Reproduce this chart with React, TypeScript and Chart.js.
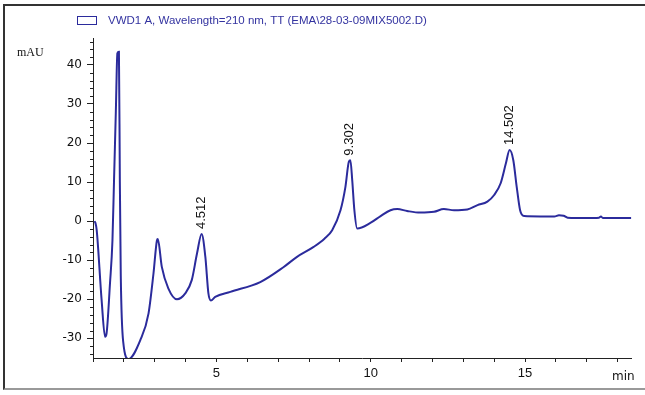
import React, { useEffect, useRef } from "react";
import { Chart, registerables } from "chart.js";

Chart.register(...registerables);

// Retention time (min)
const timeMin = [
  1.05, 1.08, 1.12, 1.28, 1.39, 1.44, 1.55, 1.63, 1.68, 1.74, 1.79, 1.84, 1.87, 1.9, 1.98, 2.15,
  2.53, 2.8, 2.96, 3.07, 3.1, 3.23, 3.44, 3.72, 3.99, 4.2, 4.37, 4.52, 4.64, 4.74, 4.82,
  4.96, 5.45, 6.42, 7.17, 7.6, 8.15, 8.5, 8.75, 9.02, 9.18, 9.29, 9.34, 9.4, 9.47, 9.56,
  10.0, 10.32, 10.64, 10.86, 11.18, 11.6, 12.05, 12.37, 12.7, 13.13, 13.46, 13.78, 14.0, 14.21, 14.38,
  14.5, 14.62, 14.73, 14.84, 14.97, 15.5, 15.95, 16.1, 16.25, 16.38, 17.0, 17.4, 17.46, 17.52, 18.44,
];
// Detector signal (mAU)
const signal = [
  0, -0.5, -2.3, -20.3, -29.6, -28.7, -16, -5, 10, 28, 43, 43.4, 10, -14, -31, -35.3,
  -30.5, -23.6, -13.4, -5, -4.6, -11.7, -17.2, -20, -18.5, -15.1, -8.3, -3.3, -9.1, -18.5, -20.3,
  -19.4, -18.1, -15.6, -11.8, -9.2, -6.6, -4.5, -2.3, 2.8, 8.8, 15.2, 15.6, 10.5, 2.8, -1.9,
  -0.4, 1.3, 2.8, 3.1, 2.6, 2.2, 2.4, 3.1, 2.8, 3, 4.1, 5, 6.7, 9.7, 14.8,
  18.2, 15.6, 8.8, 2.8, 1.3, 1.2, 1.2, 1.5, 1.4, 0.9, 0.8, 0.9, 1.2, 0.8, 0.8,
];

const peakTimes = [4.512, 9.302, 14.502];
const peakHeights = [-3.3, 15.5, 18.2];
const peakLabels = ["4.512", "9.302", "14.502"];

const xMajorLabels = [5, 10, 15];
const yMajorStep = 10;

const seriesLabel = "VWD1 A, Wavelength=210 nm, TT (EMA\\28-03-09MIX5002.D)";
const yUnit = "mAU";
const xUnit = "min";

const LINE = "#2b2b9c";
const AXIS = "#222";

const decorPlugin = {
  id: "decor",
  afterDraw(chart: any) {
    const ctx = chart.ctx;
    const y = chart.scales.y;
    const x = chart.scales.x;
    ctx.save();
    // minor y ticks
    ctx.strokeStyle = AXIS;
    ctx.lineWidth = 1;
    y.ticks.forEach((t: any) => {
      if (Math.round(t.value) % yMajorStep !== 0) {
        const py = Math.round(y.getPixelForValue(t.value)) + 0.5;
        ctx.beginPath();
        ctx.moveTo(chart.chartArea.left - 3, py);
        ctx.lineTo(chart.chartArea.left, py);
        ctx.stroke();
      }
    });
    // peak labels
    ctx.fillStyle = "#111";
    ctx.font = "13px 'Liberation Sans', Arial, sans-serif";
    ctx.textAlign = "left";
    ctx.textBaseline = "middle";
    peakTimes.forEach((pt, i) => {
      const px = x.getPixelForValue(pt);
      const py = y.getPixelForValue(peakHeights[i]) - 5;
      ctx.save();
      ctx.translate(px, py);
      ctx.rotate(-Math.PI / 2);
      ctx.fillText(peakLabels[i], 0, 0);
      ctx.restore();
    });
    // axis units
    ctx.fillStyle = "#111";
    ctx.font = "12px 'Liberation Serif', serif";
    ctx.fillText(yUnit, 17, 53);
    ctx.font = "12px 'DejaVu Sans', sans-serif";
    ctx.fillText(xUnit, 612, 377);
    // legend
    ctx.strokeStyle = LINE;
    ctx.lineWidth = 1;
    ctx.strokeRect(77.5, 16.5, 19, 8);
    ctx.fillStyle = "#3333a0";
    ctx.font = "11.5px 'Liberation Sans', Arial, sans-serif";
    ctx.fillText(chart.data.datasets[0].label, 108, 20.5);
    ctx.restore();
  },
};

export default function App() {
  const ref = useRef<HTMLCanvasElement>(null);
  useEffect(() => {
    document.body.style.margin = "0";
    const chart = new Chart(ref.current as HTMLCanvasElement, {
      type: "line",
      data: {
        datasets: [
          {
            label: seriesLabel,
            data: timeMin.map((t, i) => ({ x: t, y: signal[i] })),
            borderColor: LINE,
            borderWidth: 2,
            pointRadius: 0,
            cubicInterpolationMode: "monotone",
            fill: false,
          },
        ],
      },
      options: {
        animation: false,
        responsive: false,
        maintainAspectRatio: false,
        layout: { padding: { top: 38, right: 13.5, left: 0, bottom: 0 } },
        plugins: { legend: { display: false }, tooltip: { enabled: false } },
        scales: {
          x: {
            type: "linear",
            min: 1,
            max: 18.45,
            afterFit: (s: any) => {
              s.height = 37;
            },
            border: { display: true, color: AXIS, width: 1 },
            grid: { drawOnChartArea: false, drawTicks: true, tickLength: 4, color: AXIS },
            ticks: {
              stepSize: 1,
              includeBounds: false,
              autoSkip: false,
              maxRotation: 0,
              padding: 4,
              color: "#111",
              font: { family: "'Liberation Sans', Arial, sans-serif", size: 13 },
              callback: (v: any) => (xMajorLabels.includes(Number(v)) ? String(v) : ""),
            },
          },
          y: {
            type: "linear",
            min: -35.04,
            max: 46.9,
            afterFit: (s: any) => {
              s.width = 93;
            },
            border: { display: true, color: AXIS, width: 1 },
            grid: {
              drawOnChartArea: false,
              drawTicks: true,
              tickLength: 6,
              color: AXIS,
              tickColor: (c: any) =>
                c.tick && Math.round(c.tick.value) % yMajorStep === 0 ? AXIS : "rgba(0,0,0,0)",
            },
            ticks: {
              stepSize: 2,
              includeBounds: false,
              autoSkip: false,
              padding: 5,
              color: "#111",
              font: { family: "'DejaVu Sans', sans-serif", size: 12 },
              callback: (v: any) => (Math.round(Number(v)) % yMajorStep === 0 ? String(Math.round(Number(v))) : ""),
            },
          },
        },
      },
      plugins: [decorPlugin],
    });
    return () => chart.destroy();
  }, []);

  return (
    <div style={{ position: "relative", width: 645, height: 395, background: "#fff", overflow: "hidden" }}>
      <canvas ref={ref} width={645} height={395} style={{ display: "block" }} />
      <div
        style={{
          position: "absolute",
          left: 3,
          top: 4,
          width: 645,
          height: 386,
          borderTop: "2px solid #333",
          borderLeft: "2px solid #333",
          borderBottom: "2px solid #999",
          boxSizing: "border-box",
          pointerEvents: "none",
        }}
      />
    </div>
  );
}
